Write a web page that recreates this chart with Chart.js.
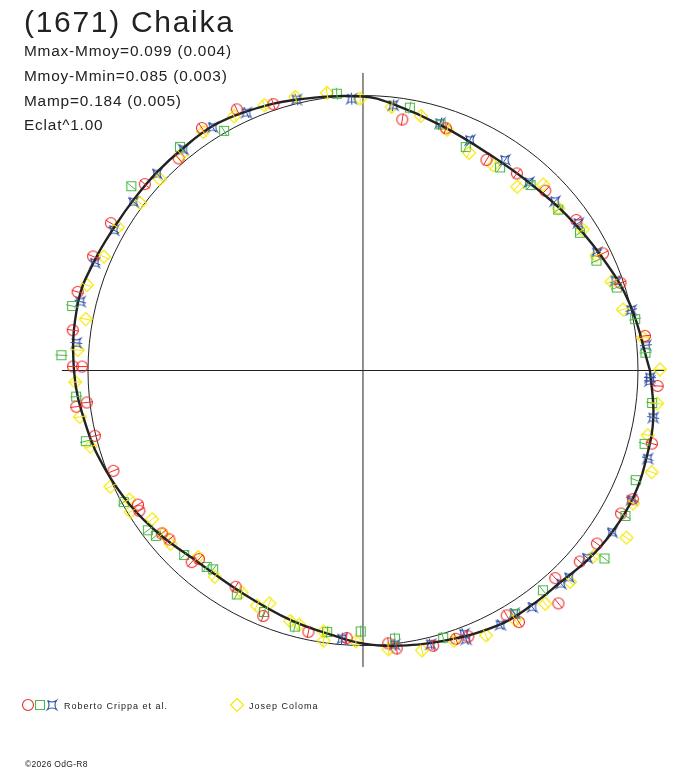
<!DOCTYPE html>
<html>
<head>
<meta charset="utf-8">
<script src="https://cdn.jsdelivr.net/npm/chart.js@4.4.1/dist/chart.umd.min.js"></script>
<style>
  body { margin: 0; background: #fff; }
  #wrap { position: relative; width: 688px; height: 768px; }
  #polar { position: absolute; left: 0; top: 0; }
  .txt { position: absolute; left: 24px; color: #222; font-family: "Liberation Sans", Arial, sans-serif; white-space: nowrap; }
  .title { top: 7px; font-size: 30px; line-height: 30px; letter-spacing: 1.7px; }
  .info { font-size: 15.4px; line-height: 15.4px; letter-spacing: 0.8px; }
  .leg { font-size: 9px; line-height: 9px; letter-spacing: 1px; top: 702px; }
  .foot { left: 25px; top: 760px; font-size: 8.5px; line-height: 8.5px; letter-spacing: 0.3px; }
</style>
</head>
<body>
<div id="wrap">
  <canvas id="polar" width="688" height="768"></canvas>
  <div class="txt title">(1671) Chaika</div>
  <div class="txt info" style="top:43px">Mmax-Mmoy=0.099 (0.004)</div>
  <div class="txt info" style="top:68px">Mmoy-Mmin=0.085 (0.003)</div>
  <div class="txt info" style="top:93px">Mamp=0.184 (0.005)</div>
  <div class="txt info" style="top:117px">Eclat^1.00</div>
  <div class="txt leg" style="left:64px">Roberto Crippa et al.</div>
  <div class="txt leg" style="left:249px">Josep Coloma</div>
  <div class="txt foot">&copy;2026 OdG-R8</div>
</div>
<script>
// polar light curve: phase angle in degrees, flux in units where the mean level = 275
const meanFlux = 275;

// fitted curve
const curvePhase = [0, 14, 26, 37.5, 48, 60, 72, 83.5, 90, 104, 114, 121.5, 129, 136, 143, 150, 157.5, 166.5, 180,
  192, 201, 210, 219, 229, 241, 254, 265, 270, 276, 286.5, 298, 306, 313, 320, 327, 335, 343, 351, 360];
const curveFlux = [287, 275, 264, 256, 251, 250.5, 257, 268, 274, 279, 284, 287, 286, 286, 286, 287, 290, 293, 289,
  282, 276, 269, 261, 253, 253, 260, 268, 273, 277, 282, 288.5, 289, 289.5, 294, 297, 298.6, 296.6, 294, 287];

// Roberto Crippa et al. (three sessions)
const redPhase = [115.8, 108.6, 123.6, 131, 139.5, 149.7, 157.1, 164.6, 172.1, 179.2, 179.2,
  81.1, 71.1, 59.6, 52, 44.6, 35.2, 26, 18.8, 7,
  187.2, 186.6, 193.7, 201.9, 210.8, 212.1, 219, 221.1, 228.2, 229, 239.5, 247.9, 258.2, 266.5,
  357, 345.8, 334.5, 331, 323.5, 318.6, 312.8, 310, 300.4, 301.8, 291.6, 289.1, 284.3, 276.9, 275.3];
const redFlux = [290, 281, 291, 281, 287, 292, 293, 296, 293, 290, 281,
  254, 256, 244, 250, 256, 261, 267, 272, 284,
  289, 278, 276, 269, 262, 264, 259, 257, 257, 250, 251, 265, 267, 268,
  295, 298, 299, 295, 291, 289, 283, 304, 284, 296, 286, 284, 284, 280, 274];

const greenPhase = [120.1, 129.3, 141.5, 167.5, 177.1, 95.4,
  79.9, 72.5, 65.3, 56, 47.9, 39.5, 32.4, 25.2, 18.1, 10.7, 3.6,
  185.2, 194.3, 208.8, 216.6, 218.6, 225.9, 231.5, 233, 240.6, 247.7, 255.1, 262.2, 269.5,
  353.6, 345.4, 338.1, 331, 322.1, 309.3, 302, 286.7, 276.8];
const greenFlux = [277, 289, 296, 298, 302, 278,
  267, 258, 246, 245, 250, 253, 257, 258, 267, 277, 283,
  288, 286, 273, 268, 265, 257, 251, 249, 257, 261, 265, 264, 261,
  291, 291, 294, 300, 306, 284, 287, 279, 270];

const bluePhase = [114.3, 121.7, 129.1, 136.3, 143.7, 150.6, 158.1, 166.3, 174.5, 103.8, 92.4,
  83.5, 72.7, 65.1, 56, 48.6, 41.4, 34.4, 26.8, 19.6, 12.7, 5.1, 358.6,
  265.5,
  357.9, 350.8, 342.8, 334.3, 327, 320.1, 314.9, 312.9, 305.6, 301.9, 298.4, 291, 291, 283.9, 276.6];
const blueFlux = [283, 286, 285, 285, 285, 286, 289, 291, 288, 279, 272,
  267, 259, 254, 254, 251, 256, 261, 262, 268, 275, 284, 287,
  269,
  287, 294, 298, 298, 297, 292, 292, 291, 291, 286, 289, 282, 288, 282, 276];

// Josep Coloma
const yellowPhase = [103.9, 97.4, 90.6, 110.4, 116.9, 123.8, 130.1, 136.7, 143.1, 149.7, 156.3, 162.8, 169.5, 175.9,
  83.8, 77.2, 70.7, 64, 57.6, 50, 45.9, 39.7, 32.7, 26.2, 19.7, 13.2, 6.6, 0.2,
  182.3, 189.3, 195.6, 204.7, 208.9, 211.3, 215.2, 219.2, 222, 228.5, 234.3, 241.3, 245.7, 248.1, 253.8, 255.9, 261.4, 261.7, 268.5,
  353.6, 340.6, 347.2, 333.8, 327.6, 321.1, 314.4, 308, 301.4, 294.9, 288.6, 281.9, 275.2];
const yellowFlux = [282, 280, 272, 283, 285, 287, 282, 279, 279, 284, 283, 289, 282, 286,
  265, 261, 255, 242, 243, 240, 259, 254, 261, 260, 264, 267, 282, 297,
  288, 287, 283, 278, 267, 272, 258, 258, 259, 249, 254, 253, 258, 251, 261, 262, 264, 273, 271,
  296, 306, 292, 301, 312, 296, 296, 296, 292, 292, 285, 286, 280];

function toXY(phases, fluxes) {
  return phases.map((p, i) => {
    const a = p * Math.PI / 180;
    const r = fluxes[i] / meanFlux;
    return { x: r * Math.cos(a), y: r * Math.sin(a) };
  });
}

const RED = '#f02828', GREEN = '#4cb848', BLUE = '#3050a8', YELLOW = '#f4e800';

function makeMarker(kind, color) {
  const c = document.createElement('canvas');
  c.width = 16; c.height = 16;
  const g = c.getContext('2d');
  g.strokeStyle = color;
  g.lineWidth = 1.1;
  g.beginPath();
  if (kind === 'circle') {
    g.arc(8, 8, 5.5, 0, Math.PI * 2);
  } else if (kind === 'square') {
    g.rect(3.5, 3.5, 9, 9);
  } else if (kind === 'astroid') {
    g.moveTo(3.5, 3.5);
    g.quadraticCurveTo(8, 6.5, 12.5, 3.5);
    g.quadraticCurveTo(9.5, 8, 12.5, 12.5);
    g.quadraticCurveTo(8, 9.5, 3.5, 12.5);
    g.quadraticCurveTo(6.5, 8, 3.5, 3.5);
  } else {
    g.moveTo(8, 1.5); g.lineTo(14.5, 8); g.lineTo(8, 14.5); g.lineTo(1.5, 8); g.closePath();
  }
  g.stroke();
  return c;
}

const markers = {
  red: makeMarker('circle', RED),
  green: makeMarker('square', GREEN),
  blue: makeMarker('astroid', BLUE),
  yellow: makeMarker('diamond', YELLOW)
};

// reference circle, axes, radial error ticks and legend symbols
const polarDecor = {
  id: 'polarDecor',
  beforeDatasetsDraw(chart) {
    const { ctx, scales: { x, y } } = chart;
    const cx = x.getPixelForValue(0), cy = y.getPixelForValue(0);
    const rad = x.getPixelForValue(1) - cx;
    ctx.save();
    ctx.strokeStyle = '#222';
    ctx.lineWidth = 1;
    ctx.beginPath();
    ctx.arc(cx, cy, rad, 0, Math.PI * 2);
    ctx.stroke();
    ctx.beginPath();
    ctx.moveTo(x.getPixelForValue(-1.095), cy);
    ctx.lineTo(x.getPixelForValue(1.095), cy);
    ctx.moveTo(cx, y.getPixelForValue(1.082));
    ctx.lineTo(cx, y.getPixelForValue(-1.078));
    ctx.stroke();
    ctx.restore();
  },
  afterDatasetsDraw(chart) {
    const { ctx, scales: { x, y } } = chart;
    const cx = x.getPixelForValue(0), cy = y.getPixelForValue(0);
    ctx.save();
    ctx.lineWidth = 1;
    chart.data.datasets.forEach((ds, i) => {
      if (!ds.tickColor) return;
      ctx.strokeStyle = ds.tickColor;
      chart.getDatasetMeta(i).data.forEach(pt => {
        const dx = pt.x - cx, dy = pt.y - cy;
        const d = Math.hypot(dx, dy);
        const ux = dx / d, uy = dy / d;
        ctx.beginPath();
        ctx.moveTo(pt.x - ux * 6, pt.y - uy * 6);
        ctx.lineTo(pt.x + ux * 6, pt.y + uy * 6);
        ctx.stroke();
      });
    });
    // legend symbols
    ctx.drawImage(markers.red, 20, 697);
    ctx.drawImage(markers.green, 32, 697);
    ctx.drawImage(markers.blue, 44, 697);
    ctx.drawImage(markers.yellow, 229, 697);
    ctx.restore();
  }
};

const ctx = document.getElementById('polar').getContext('2d');
new Chart(ctx, {
  type: 'scatter',
  data: {
    datasets: [
      {
        label: 'fit',
        type: 'line',
        data: toXY(curvePhase, curveFlux),
        borderColor: '#222',
        borderWidth: 2.4,
        pointRadius: 0,
        tension: 0.4,
        fill: false,
        order: 0
      },
      { label: 'Crippa 1', data: toXY(redPhase, redFlux), pointStyle: markers.red, tickColor: RED, order: 1 },
      { label: 'Crippa 2', data: toXY(greenPhase, greenFlux), pointStyle: markers.green, tickColor: GREEN, order: 1 },
      { label: 'Crippa 3', data: toXY(bluePhase, blueFlux), pointStyle: markers.blue, tickColor: BLUE, order: 1 },
      { label: 'Coloma', data: toXY(yellowPhase, yellowFlux), pointStyle: markers.yellow, tickColor: YELLOW, order: 1 }
    ]
  },
  options: {
    responsive: false,
    animation: false,
    layout: { padding: 0, autoPadding: false },
    plugins: { legend: { display: false }, tooltip: { enabled: false } },
    scales: {
      x: { type: 'linear', min: -1.32, max: 1.18182, display: false },
      y: { type: 'linear', min: -1.44545, max: 1.34727, display: false }
    }
  },
  plugins: [polarDecor]
});
</script>
</body>
</html>
